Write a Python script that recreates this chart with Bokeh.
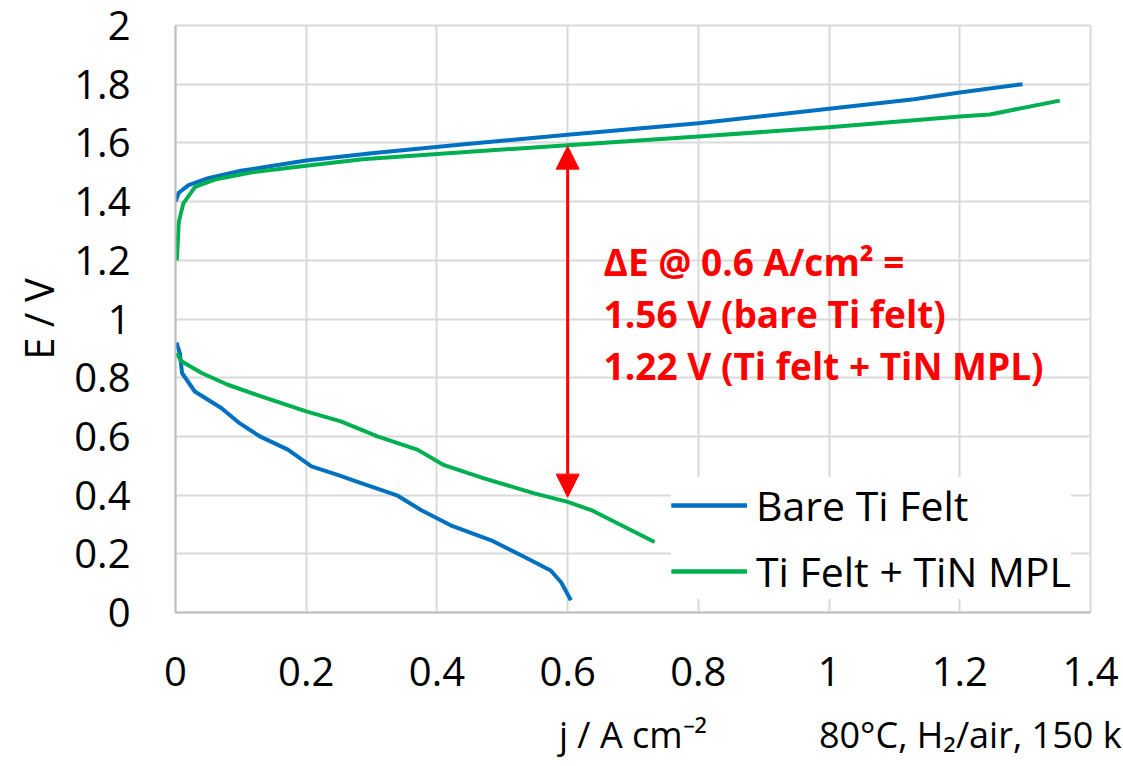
from bokeh.plotting import figure
from bokeh.models import Range1d, FixedTicker, Arrow, NormalHead, ColumnDataSource, LinearAxis
from bokeh.core.properties import value
from bokeh.embed import file_html
from bokeh.resources import INLINE

# ---- data ----
bare_ec_j = [0.0, 0.005, 0.02, 0.05, 0.1, 0.2, 0.3, 0.45, 0.6, 0.8, 1.0, 1.13, 1.2, 1.296]
bare_ec_E = [1.40, 1.43, 1.456, 1.48, 1.505, 1.54, 1.565, 1.597, 1.628, 1.667, 1.716, 1.749, 1.772, 1.80]

tin_ec_j = [0.002, 0.005, 0.012, 0.03, 0.06, 0.117, 0.2, 0.286, 0.45, 0.6, 0.8, 1.0, 1.2, 1.246, 1.353]
tin_ec_E = [1.20, 1.33, 1.394, 1.45, 1.475, 1.50, 1.522, 1.544, 1.57, 1.592, 1.622, 1.653, 1.69, 1.697, 1.744]

bare_fc_j = [0.0015, 0.0066, 0.010, 0.0295, 0.070, 0.098, 0.129, 0.172, 0.208, 0.248, 0.284,
             0.340, 0.3755, 0.421, 0.483, 0.534, 0.574, 0.590, 0.605]
bare_fc_E = [0.920, 0.884, 0.816, 0.753, 0.697, 0.645, 0.600, 0.555, 0.498, 0.469, 0.441,
             0.398, 0.349, 0.297, 0.246, 0.189, 0.143, 0.103, 0.042]

tin_fc_j = [0.0015, 0.009, 0.040, 0.080, 0.131, 0.200, 0.253, 0.309, 0.370, 0.411, 0.472,
            0.549, 0.600, 0.636, 0.692, 0.733]
tin_fc_E = [0.884, 0.856, 0.816, 0.776, 0.736, 0.685, 0.651, 0.600, 0.555, 0.502, 0.457,
            0.406, 0.377, 0.349, 0.286, 0.240]

x_ticks = [0, 0.2, 0.4, 0.6, 0.8, 1.0, 1.2, 1.4]
x_tick_labels = ["0", "0.2", "0.4", "0.6", "0.8", "1", "1.2", "1.4"]
y_ticks = [0, 0.2, 0.4, 0.6, 0.8, 1.0, 1.2, 1.4, 1.6, 1.8, 2.0]
y_tick_labels = ["0", "0.2", "0.4", "0.6", "0.8", "1", "1.2", "1.4", "1.6", "1.8", "2"]

series_names = ["Bare Ti Felt", "Ti Felt + TiN MPL"]
series_colors = ["#0070c0", "#00b050"]

arrow_j = 0.6
arrow_top_E = 1.589
arrow_bottom_E = 0.393

ann_lines = ["ΔE @ 0.6 A/cm² =", "1.56 V (bare Ti felt)", "1.22 V (Ti felt + TiN MPL)"]
ann_j = [0.655, 0.655, 0.655]
ann_E = [1.195, 1.018, 0.842]

# bottom texts: x-axis title (centred on the axis) and the test-condition note
# (the note is cut at the picture's right edge in the reference)
bottom_text_j = [0.7, 1.216]
bottom_texts = ["j / A cm⁻²", "80°C, H₂/air, 150 k"]

FONT = "Open Sans"
GRID = "#d9d9d9"
AXIS = "#bfbfbf"

p = figure(width=1123, height=766, output_backend="svg", toolbar_location=None,
           x_range=Range1d(0, 1.4), y_range=Range1d(0, 2),
           min_border_left=175, min_border_right=33, min_border_top=25, min_border_bottom=154)
p.background_fill_color = "white"
p.border_fill_color = "white"
p.outline_line_color = GRID
p.outline_line_width = 2

# grids
for g in (p.xgrid, p.ygrid):
    g.grid_line_color = GRID
    g.grid_line_width = 2
p.xgrid.ticker = FixedTicker(ticks=x_ticks)
p.ygrid.ticker = FixedTicker(ticks=y_ticks)

# axes
p.xaxis.ticker = FixedTicker(ticks=x_ticks)
p.yaxis.ticker = FixedTicker(ticks=y_ticks)
p.xaxis.major_label_overrides = {t: l for t, l in zip(x_ticks, x_tick_labels)}
p.yaxis.major_label_overrides = {t: l for t, l in zip(y_ticks, y_tick_labels)}
for ax in (p.xaxis[0], p.yaxis[0]):
    ax.axis_line_color = AXIS
    ax.axis_line_width = 2
    ax.major_tick_in = 0
    ax.major_tick_out = 0
    ax.minor_tick_in = 0
    ax.minor_tick_out = 0
    ax.major_label_text_font = FONT
    ax.major_label_text_font_size = "40px"
    ax.major_label_text_color = "black"
    ax.axis_label_text_font = FONT
    ax.axis_label_text_font_size = "40px"
    ax.axis_label_text_font_style = "normal"
    ax.axis_label_text_color = "black"
p.yaxis.axis_label = "E / V"
p.xaxis.major_label_standoff = 44
p.yaxis.major_label_standoff = 45
p.yaxis.axis_label_standoff = 5

# second, line-less axis below carrying the x title and the condition note
ax2 = LinearAxis(ticker=FixedTicker(ticks=bottom_text_j),
                 major_label_overrides={t: l for t, l in zip(bottom_text_j, bottom_texts)},
                 axis_line_color=None, major_tick_in=0, major_tick_out=0,
                 minor_tick_in=0, minor_tick_out=0,
                 major_label_text_font=FONT, major_label_text_font_size="36px",
                 major_label_text_color="black", major_label_standoff=21)
p.add_layout(ax2, "below")

# curves
p.line(bare_ec_j, bare_ec_E, color=series_colors[0], line_width=4, line_join="round",
       legend_label=series_names[0])
p.line(bare_fc_j, bare_fc_E, color=series_colors[0], line_width=4, line_join="round",
       legend_label=series_names[0])
p.line(tin_ec_j, tin_ec_E, color=series_colors[1], line_width=4, line_join="round",
       legend_label=series_names[1])
p.line(tin_fc_j, tin_fc_E, color=series_colors[1], line_width=4, line_join="round",
       legend_label=series_names[1])

# double-headed arrow
red = "#ff0000"
p.add_layout(Arrow(start=NormalHead(size=23, fill_color=red, line_color=red),
                   end=NormalHead(size=23, fill_color=red, line_color=red),
                   x_start=arrow_j, y_start=arrow_bottom_E, x_end=arrow_j, y_end=arrow_top_E,
                   line_color=red, line_width=3))

# annotation text
src = ColumnDataSource(dict(x=ann_j, y=ann_E, t=ann_lines))
p.text(x="x", y="y", text="t", source=src, text_color=red, text_font=value(FONT),
       text_font_style="bold", text_font_size="37px", text_baseline="middle", text_align="left")

# legend
lg = p.legend[0]
lg.location = (496, 13)
lg.margin = 0
lg.padding = 7
lg.spacing = 10
lg.glyph_width = 76
lg.glyph_height = 36
lg.label_height = 36
lg.label_standoff = 9
lg.label_text_font = FONT
lg.label_text_font_size = "41px"
lg.label_text_color = "black"
lg.border_line_color = None
lg.background_fill_color = "white"
lg.background_fill_alpha = 1.0

open("out.html", "w").write(file_html(p, INLINE))
